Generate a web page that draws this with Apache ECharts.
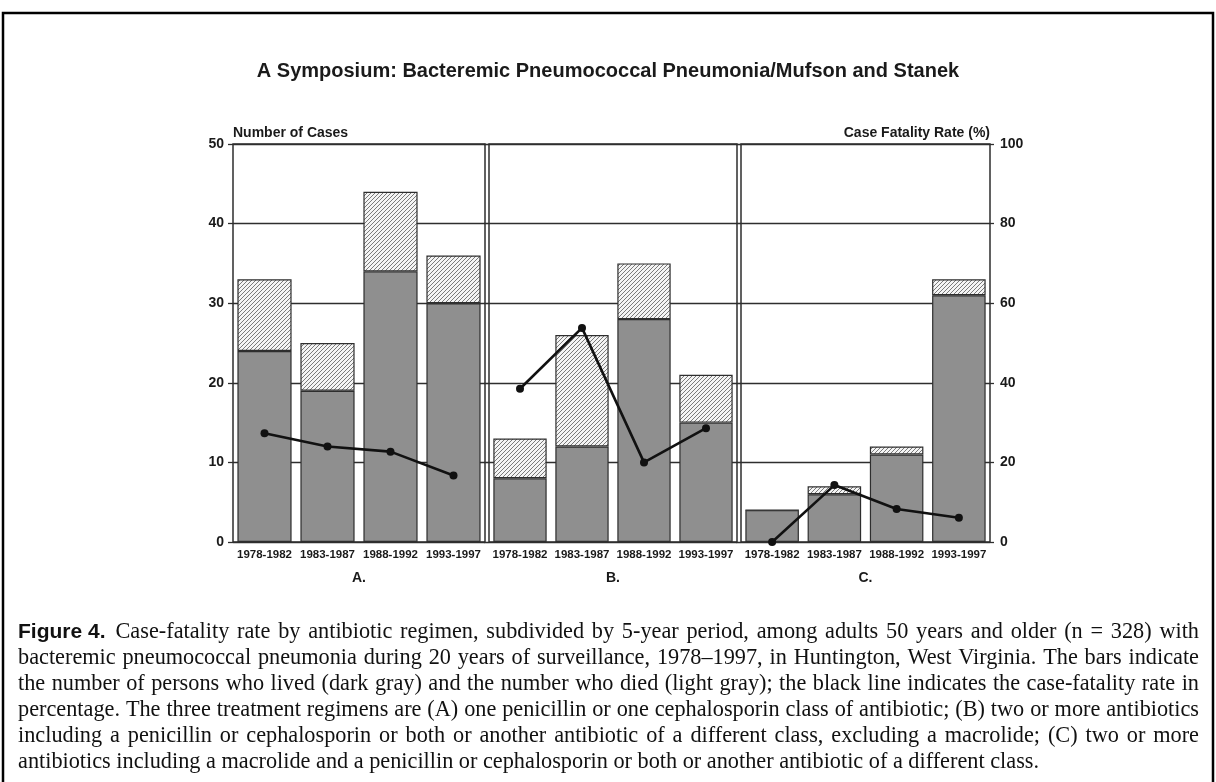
<!DOCTYPE html>
<html><head><meta charset="utf-8">
<script src="https://cdn.jsdelivr.net/npm/echarts@6/dist/echarts.min.js"></script>
<style>html,body{margin:0;padding:0;background:#fff}#c{width:1216px;height:782px}</style>
</head><body><div id="c"></div>
<script>
// ---------- data ----------
const periods = ['1978-1982', '1983-1987', '1988-1992', '1993-1997'];
const panelLabels = ['A.', 'B.', 'C.'];
const livedA = [24, 19, 34, 30];
const diedA  = [9, 6, 10, 6];
const rateA  = [27.3, 24.0, 22.7, 16.7];
const livedB = [8, 12, 28, 15];
const diedB  = [5, 14, 7, 6];
const rateB  = [38.5, 53.8, 20.0, 28.6];
const livedC = [4, 6, 11, 31];
const diedC  = [0, 1, 1, 2];
const rateC  = [0, 14.3, 8.3, 6.1];
const casesAxis = { min: 0, max: 50, interval: 10 };
const rateAxis  = { min: 0, max: 100, interval: 20 };
const titleText = 'A Symposium: Bacteremic Pneumococcal Pneumonia/Mufson and Stanek';
const leftAxisName = 'Number of Cases';
const rightAxisName = 'Case Fatality Rate (%)';
const captionLead = 'Figure 4.';
const captionLines = [
  'Case-fatality rate by antibiotic regimen, subdivided by 5-year period, among adults 50 years and older (n = 328) with',
  'bacteremic pneumococcal pneumonia during 20 years of surveillance, 1978\u20131997, in Huntington, West Virginia. The bars indicate',
  'the number of persons who lived (dark gray) and the number who died (light gray); the black line indicates the case-fatality rate in',
  'percentage. The three treatment regimens are (A) one penicillin or one cephalosporin class of antibiotic; (B) two or more antibiotics',
  'including a penicillin or cephalosporin or both or another antibiotic of a different class, excluding a macrolide; (C) two or more',
  'antibiotics including a macrolide and a penicillin or cephalosporin or both or another antibiotic of a different class.'
];

// ---------- styling / layout ----------
const SANS = '"Liberation Sans", Arial, Helvetica, sans-serif';
const SERIF = '"Liberation Serif", "Times New Roman", serif';
const INK = '#1a1a1a';
const LINE = '#2e2e2e';
const panelBoxes = [{ left: 233, width: 252 }, { left: 489, width: 248 }, { left: 741, width: 249 }];
const panelTop = 144, panelHeight = 398;

function hatchPattern() {
  const c = document.createElement('canvas');
  c.width = 4; c.height = 4;
  const g = c.getContext('2d');
  g.fillStyle = '#f4f4f4'; g.fillRect(0, 0, 4, 4);
  g.strokeStyle = '#7a7a7a'; g.lineWidth = 1;
  g.beginPath();
  g.moveTo(0, 4); g.lineTo(4, 0);
  g.moveTo(-1, 1); g.lineTo(1, -1);
  g.moveTo(3, 5); g.lineTo(5, 3);
  g.stroke();
  return c;
}
const hatch = { image: hatchPattern(), repeat: 'repeat' };

const lived = [livedA, livedB, livedC];
const died = [diedA, diedB, diedC];
const rate = [rateA, rateB, rateC];

const grids = [], xAxes = [], yAxes = [], series = [];
panelBoxes.forEach((b, i) => {
  grids.push({ left: b.left, width: b.width, top: panelTop, height: panelHeight,
    show: true, borderColor: LINE, borderWidth: 1.5, backgroundColor: 'transparent' });
  xAxes.push({ gridIndex: i, type: 'category', data: periods,
    axisLine: { show: false }, axisTick: { show: false },
    axisLabel: { interval: 0, fontFamily: SANS, fontSize: 11.5, fontWeight: 'bold', color: INK, margin: 7 },
    name: panelLabels[i], nameLocation: 'middle', nameGap: 29,
    nameTextStyle: { fontFamily: SANS, fontSize: 14, fontWeight: 'bold', color: INK } });
  yAxes.push({ gridIndex: i, type: 'value', position: 'left',
    min: casesAxis.min, max: casesAxis.max, interval: casesAxis.interval,
    axisLine: { show: false },
    axisTick: { show: true, length: 5, lineStyle: { color: LINE, width: 1.3 } },
    splitLine: { show: true, lineStyle: { color: LINE, width: 1.3 } },
    axisLabel: { show: i === 0, fontFamily: SANS, fontSize: 14, fontWeight: 'bold', color: INK, margin: 9 },
    name: i === 0 ? leftAxisName : '', nameLocation: 'end', nameGap: 4,
    nameTextStyle: { align: 'left', verticalAlign: 'bottom', fontFamily: SANS, fontSize: 14, fontWeight: 'bold', color: INK } });
  yAxes.push({ gridIndex: i, type: 'value', position: 'right',
    min: rateAxis.min, max: rateAxis.max, interval: rateAxis.interval,
    axisLine: { show: false },
    axisTick: { show: true, length: 4, lineStyle: { color: LINE, width: 1.3 } },
    splitLine: { show: false },
    axisLabel: { show: i === 2, fontFamily: SANS, fontSize: 14, fontWeight: 'bold', color: INK, margin: 10 },
    name: i === 2 ? rightAxisName : '', nameLocation: 'end', nameGap: 4,
    nameTextStyle: { align: 'right', verticalAlign: 'bottom', fontFamily: SANS, fontSize: 14, fontWeight: 'bold', color: INK } });
  series.push({ type: 'bar', name: 'Lived', xAxisIndex: i, yAxisIndex: 2 * i, stack: 's' + i,
    data: lived[i], barCategoryGap: '14%', z: 3,
    itemStyle: { color: '#8f8f8f', borderColor: LINE, borderWidth: 1.2 } });
  series.push({ type: 'bar', name: 'Died', xAxisIndex: i, yAxisIndex: 2 * i, stack: 's' + i,
    data: died[i], barCategoryGap: '14%', z: 3,
    itemStyle: { color: hatch, borderColor: LINE, borderWidth: 1.2 } });
  series.push({ type: 'line', name: 'Case fatality rate', xAxisIndex: i, yAxisIndex: 2 * i + 1,
    data: rate[i], symbol: 'circle', symbolSize: 8, clip: false, z: 6,
    lineStyle: { color: '#111', width: 2.6 }, itemStyle: { color: '#111' } });
});

// ---------- caption (justified, as real text) ----------
const mctx = document.createElement('canvas').getContext('2d');
function tw(t, font) { mctx.font = font; return mctx.measureText(t).width; }
const leadFont = 'bold 21px ' + SANS;
const capLeft = 18, capRight = 1199, capY0 = 632, capStep = 26;
const leadW = tw(captionLead, leadFont) + 10;
// largest serif size (<= 23px) whose natural lines fit the caption width
let bodySize = 23;
captionLines.forEach((line, li) => {
  const avail = capRight - capLeft - (li === 0 ? leadW : 0) - 6;
  const w100 = tw(line, '100px ' + SERIF);
  bodySize = Math.min(bodySize, avail / w100 * 100);
});
const bodyFont = bodySize.toFixed(2) + 'px ' + SERIF;
const captionEls = [];
captionLines.forEach((line, li) => {
  const y = capY0 + li * capStep;
  let x0 = capLeft;
  if (li === 0) {
    captionEls.push({ type: 'text', x: capLeft, y, silent: true,
      style: { text: captionLead, font: leadFont, fill: '#111', align: 'left', verticalAlign: 'middle' } });
    x0 = capLeft + leadW;
  }
  const words = line.split(' ');
  const widths = words.map(w => tw(w, bodyFont));
  const total = widths.reduce((a, b) => a + b, 0);
  const last = li === captionLines.length - 1;
  const gap = last ? tw(' ', bodyFont) : (capRight - x0 - total) / (words.length - 1);
  let x = x0;
  words.forEach((w, k) => {
    captionEls.push({ type: 'text', x, y, silent: true,
      style: { text: w, font: bodyFont, fill: '#111', align: 'left', verticalAlign: 'middle' } });
    x += widths[k] + gap;
  });
});

const chart = echarts.init(document.getElementById('c'), null, { renderer: 'canvas' });
chart.setOption({
  backgroundColor: '#fff',
  animation: false,
  title: { text: titleText, left: 'center', top: 56,
    textStyle: { fontFamily: SANS, fontSize: 20, fontWeight: 'bold', color: INK } },
  grid: grids, xAxis: xAxes, yAxis: yAxes, series: series,
  graphic: { elements: [
    { type: 'rect', silent: true, shape: { x: 3, y: 13, width: 1210, height: 800 },
      style: { fill: null, stroke: '#000', lineWidth: 2.5 } },
    ...captionEls
  ] }
});
</script>
</body></html>
